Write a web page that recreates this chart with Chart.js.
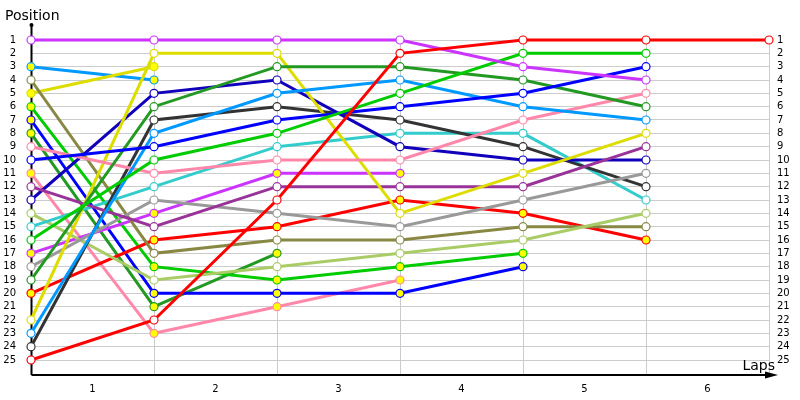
<!DOCTYPE html>
<html>
<head>
<meta charset="utf-8">
<script src="https://cdn.jsdelivr.net/npm/chart.js@4"></script>
<style>
  html, body { margin: 0; padding: 0; background: #fff; }
  #wrap { width: 800px; height: 400px; position: relative; }
</style>
</head>
<body>
<div id="wrap"><canvas id="chart"></canvas></div>
<script>
// Columns: start grid (0) and the end of every lap
const laps = [0, 1, 2, 3, 4, 5, 6];
const lapLabels = ['1', '2', '3', '4', '5', '6'];
const positionTicks = [1, 2, 3, 4, 5, 6, 7, 8, 9, 10, 11, 12, 13, 14, 15, 16, 17, 18, 19, 20, 21, 22, 23, 24, 25];

// Position of each car at the start and after every lap (short arrays = retired)
const violetCar = [1, 1, 1, 1, 3, 4];
const violetCar2 = [17, 14, 11, 11];
const yellowCar = [22, 2, 2, 14, 11, 8];
const yellowCar2 = [5, 3];
const skyCar = [23, 8, 5, 4, 6, 7];
const skyCar2 = [3, 4];
const oliveCar = [4, 17, 16, 16, 15, 15];
const greenCar = [16, 10, 8, 5, 2, 2];
const greenCar2 = [6, 18, 19, 18, 17];
const blueCar = [10, 9, 7, 6, 5, 3];
const blueCar2 = [7, 20, 20, 20, 18];
const forestCar = [19, 6, 3, 3, 4, 6];
const forestCar2 = [8, 21, 17];
const pinkCar = [9, 11, 10, 10, 7, 5];
const pinkCar2 = [11, 23, 21, 19];
const plumCar = [12, 15, 12, 12, 12, 9];
const navyCar = [13, 5, 4, 9, 10, 10];
const limeCar = [14, 19, 18, 17, 16, 14];
const cyanCar = [15, 12, 9, 8, 8, 13];
const greyCar = [18, 13, 14, 15, 13, 11];
const redCar2 = [20, 16, 15, 13, 14, 16];
const darkCar = [24, 7, 6, 7, 9, 12];
const redCar = [25, 22, 13, 2, 1, 1, 1];

// Line colours; second cars of a team get a yellow marker
const cars = [
    { data: redCar, color: '#ff0000', second: false },
    { data: violetCar, color: '#cc33ff', second: false },
    { data: greenCar, color: '#00cc00', second: false },
    { data: blueCar, color: '#0000ff', second: false },
    { data: forestCar, color: '#229922', second: false },
    { data: skyCar, color: '#0099ff', second: false },
    { data: pinkCar, color: '#ff88aa', second: false },
    { data: yellowCar, color: '#dddd00', second: false },
    { data: plumCar, color: '#993399', second: false },
    { data: navyCar, color: '#1100bb', second: false },
    { data: greyCar, color: '#999999', second: false },
    { data: darkCar, color: '#333333', second: false },
    { data: cyanCar, color: '#33cccc', second: false },
    { data: limeCar, color: '#aacc66', second: false },
    { data: oliveCar, color: '#888844', second: false },
    { data: redCar2, color: '#ff0000', second: true },
    { data: violetCar2, color: '#cc33ff', second: true },
    { data: greenCar2, color: '#00cc00', second: true },
    { data: blueCar2, color: '#0000ff', second: true },
    { data: forestCar2, color: '#229922', second: true },
    { data: pinkCar2, color: '#ff88aa', second: true },
    { data: yellowCar2, color: '#dddd00', second: true },
    { data: skyCar2, color: '#0099ff', second: true }
];

const datasets = cars.map(car => ({
    data: car.data.map((pos, i) => ({ x: laps[i], y: pos })),
    borderColor: car.color,
    borderWidth: 3,
    pointRadius: 4,
    pointHoverRadius: 4,
    pointBorderWidth: 1.2,
    pointBorderColor: car.color,
    pointBackgroundColor: car.second ? '#ffff00' : '#ffffff',
    tension: 0,
    clip: false
}));

// Axis lines, lap gridlines and the two axis captions
const axesPlugin = {
    id: 'raceAxes',
    beforeDatasetsDraw(chart) {
        const ctx = chart.ctx;
        const xs = chart.scales.x;
        const ys = chart.scales.y;
        const area = chart.chartArea;
        const firstRow = ys.getPixelForValue(1);

        ctx.save();
        ctx.strokeStyle = '#cccccc';
        ctx.lineWidth = 1;
        laps.slice(1).forEach(lap => {
            const px = Math.round(xs.getPixelForValue(lap)) + 0.5;
            ctx.beginPath();
            ctx.moveTo(px, firstRow);
            ctx.lineTo(px, area.bottom);
            ctx.stroke();
        });

        // y axis
        const x0 = Math.round(xs.getPixelForValue(0)) + 0.5;
        ctx.strokeStyle = '#000';
        ctx.lineWidth = 2;
        ctx.beginPath();
        ctx.moveTo(x0, area.top);
        ctx.lineTo(x0, area.bottom);
        ctx.stroke();
        ctx.fillStyle = '#000';
        ctx.beginPath();
        ctx.arc(x0, area.top, 2, 0, Math.PI * 2);
        ctx.fill();

        // x axis with arrow
        const yb = Math.round(area.bottom);
        ctx.beginPath();
        ctx.moveTo(x0, yb);
        ctx.lineTo(area.right + 4, yb);
        ctx.stroke();
        ctx.beginPath();
        ctx.moveTo(area.right + 9, yb);
        ctx.lineTo(area.right - 4, yb - 3.5);
        ctx.lineTo(area.right - 4, yb + 3.5);
        ctx.closePath();
        ctx.fill();
        ctx.restore();
    },
    afterDraw(chart) {
        const ctx = chart.ctx;
        ctx.save();
        ctx.fillStyle = '#000';
        ctx.font = '14px "DejaVu Sans"';
        ctx.textBaseline = 'alphabetic';
        ctx.textAlign = 'left';
        ctx.fillText('Position', 5, 20);
        ctx.textAlign = 'right';
        ctx.fillText('Laps', 775, 370);
        ctx.restore();
    }
};

const tickFont = { family: 'DejaVu Sans', size: 10 };

new Chart(document.getElementById('chart'), {
    type: 'line',
    data: { datasets: datasets },
    options: {
        responsive: true,
        maintainAspectRatio: false,
        animation: false,
        events: [],
        layout: { padding: { top: 25, left: 0, right: 0, bottom: 0 } },
        plugins: {
            legend: { display: false },
            tooltip: { enabled: false }
        },
        scales: {
            x: {
                type: 'linear',
                min: 0,
                max: 6,
                grid: { display: false, drawTicks: false },
                border: { display: false },
                afterBuildTicks: scale => {
                    scale.ticks = lapLabels.map((l, i) => ({ value: i + 0.5 }));
                },
                afterFit: scale => { scale.height = 25; },
                ticks: {
                    padding: 8,
                    color: '#000',
                    font: tickFont,
                    maxRotation: 0,
                    autoSkip: false,
                    callback: value => lapLabels[Math.floor(value)]
                }
            },
            y: {
                type: 'linear',
                position: 'left',
                reverse: true,
                min: -0.125,
                max: 26.125,
                grid: { color: '#cccccc', drawTicks: false },
                border: { display: false },
                afterBuildTicks: scale => {
                    scale.ticks = positionTicks.map(v => ({ value: v }));
                },
                afterFit: scale => { scale.width = 31; },
                ticks: { padding: 15, color: '#000', font: tickFont, autoSkip: false }
            },
            y2: {
                type: 'linear',
                position: 'right',
                reverse: true,
                min: -0.125,
                max: 26.125,
                grid: { display: false, drawTicks: false },
                border: { display: false },
                afterBuildTicks: scale => {
                    scale.ticks = positionTicks.map(v => ({ value: v }));
                },
                afterFit: scale => { scale.width = 31; },
                ticks: { padding: 8, color: '#000', font: tickFont, autoSkip: false }
            }
        }
    },
    plugins: [axesPlugin]
});
</script>
</body>
</html>
